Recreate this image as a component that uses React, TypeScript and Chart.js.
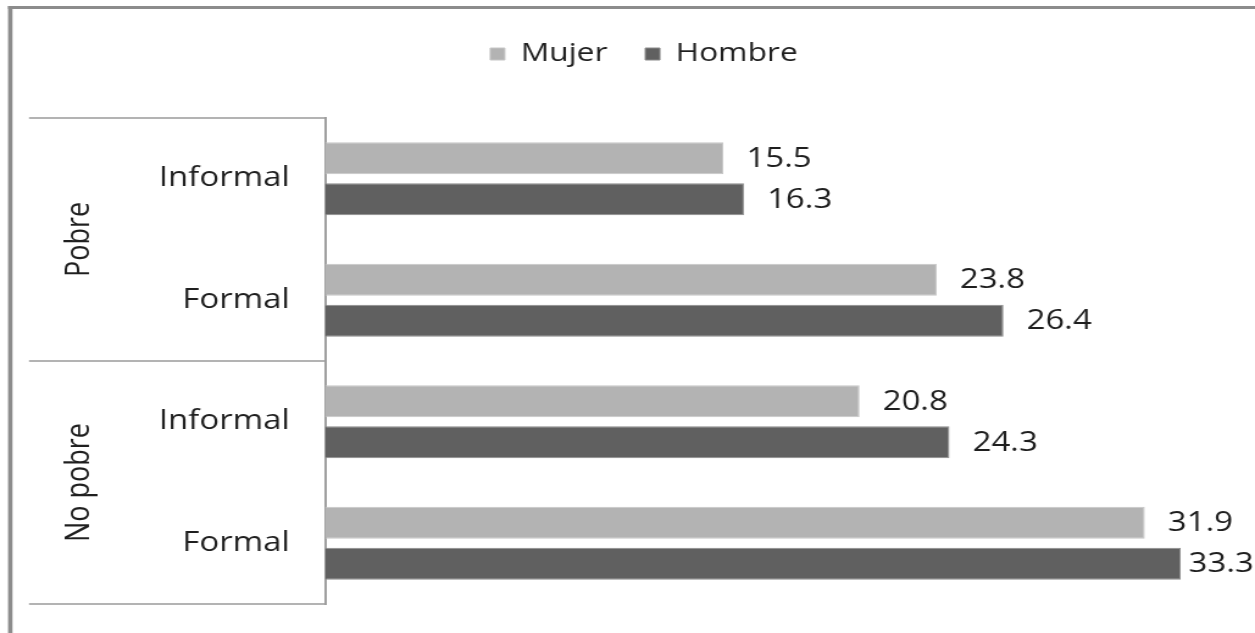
import React, { useEffect, useRef } from "react";
import { Chart, registerables } from "chart.js";

Chart.register(...registerables);

// ---- data ----
const categories = ["Informal", "Formal", "Informal", "Formal"];
const groups = ["Pobre", "No pobre"];
const seriesNames = ["Mujer", "Hombre"];
const mujer = [15.5, 23.8, 20.8, 31.9];
const hombre = [16.3, 26.4, 24.3, 33.3];
const seriesColors = ["#b3b3b3", "#606060"];
const seriesBorders = ["#c6c6c6", "#8a8a8a"];

// ---- layout constants ----
const LOGICAL_W = 1029;
const CSS_W = 1255;
const H = 633;
const FONT = "'Open Sans', sans-serif";
const TEXT = "#1f1f1f";

const decorPlugin = {
  id: "decor",
  beforeDraw(chart: any) {
    const ctx = chart.ctx;
    ctx.save();
    ctx.fillStyle = "#ffffff";
    ctx.fillRect(0, 0, chart.width, chart.height);
    ctx.fillStyle = "#8c8c8c";
    ctx.fillRect(6.6, 6, 3.6, chart.height);
    ctx.fillRect(6.6, 6, chart.width, 3);
    ctx.restore();
  },
  afterDraw(chart: any) {
    const { ctx, chartArea, scales } = chart;
    const y = scales.y;
    const top = chartArea.top;
    const bottom = chartArea.bottom;
    const mid = (y.getPixelForValue(1) + y.getPixelForValue(2)) / 2;
    const x0 = 23.8;
    const x1 = chartArea.left;
    ctx.save();
    ctx.strokeStyle = "#9a9a9a";
    ctx.lineWidth = 1.6;
    for (const yy of [top, mid, bottom]) {
      ctx.beginPath();
      ctx.moveTo(x0, yy);
      ctx.lineTo(x1, yy);
      ctx.stroke();
    }
    ctx.fillStyle = TEXT;
    ctx.font = `27px ${FONT}`;
    ctx.textAlign = "center";
    ctx.textBaseline = "middle";
    const centers = [(top + mid) / 2, (mid + bottom) / 2];
    groups.forEach((g, i) => {
      ctx.save();
      ctx.translate(65, centers[i]);
      ctx.rotate(-Math.PI / 2);
      ctx.fillText(g, 0, 0);
      ctx.restore();
    });
    ctx.restore();
  },
  afterDatasetsDraw(chart: any) {
    const ctx = chart.ctx;
    ctx.save();
    ctx.fillStyle = TEXT;
    ctx.font = `27px ${FONT}`;
    ctx.textAlign = "left";
    ctx.textBaseline = "middle";
    chart.data.datasets.forEach((ds: any, di: number) => {
      const meta = chart.getDatasetMeta(di);
      meta.data.forEach((el: any, i: number) => {
        const txt = String(ds.data[i].toFixed(1));
        const w = ctx.measureText(txt).width;
        let x = el.x + 19;
        if (x + w > chart.width - 1) x = chart.width - 1 - w;
        ctx.fillText(txt, x, el.y + 1);
      });
    });
    ctx.restore();
  },
};

export default function App() {
  const ref = useRef<HTMLCanvasElement | null>(null);
  useEffect(() => {
    if (!ref.current) return;
    const chart = new Chart(ref.current, {
      type: "bar",
      data: {
        labels: categories,
        datasets: [
          {
            label: seriesNames[0],
            data: mujer,
            backgroundColor: seriesColors[0],
            borderColor: seriesBorders[0],
            borderWidth: 1,
            categoryPercentage: 0.675,
            barPercentage: 0.78,
          },
          {
            label: seriesNames[1],
            data: hombre,
            backgroundColor: seriesColors[1],
            borderColor: seriesBorders[1],
            borderWidth: 1,
            categoryPercentage: 0.675,
            barPercentage: 0.78,
          },
        ],
      },
      options: {
        indexAxis: "y",
        responsive: false,
        animation: false,
        devicePixelRatio: 1,
        layout: { padding: { left: 31, right: 4, top: 10, bottom: 29 } },
        plugins: {
          legend: {
            display: true,
            position: "top",
            labels: {
              boxWidth: 12,
              boxHeight: 12,
              padding: 31,
              color: TEXT,
              font: { family: FONT, size: 26 },
            },
          },
          tooltip: { enabled: false },
          title: { display: false },
        },
        scales: {
          x: {
            position: "top",
            min: 0,
            max: 36,
            ticks: { display: false },
            grid: { display: false },
            border: { display: false },
            afterFit: (s: any) => {
              s.height = 41;
            },
          },
          y: {
            grid: { display: false, drawTicks: false },
            border: { display: true, color: "#a0a0a0", width: 2 },
            ticks: {
              padding: 29,
              color: TEXT,
              font: { family: FONT, size: 27 },
            },
            afterFit: (s: any) => {
              s.width = 235.5;
              s.paddingTop = 0;
              s.paddingBottom = 0;
            },
          },
        },
      },
      plugins: [decorPlugin],
    });
    return () => chart.destroy();
  }, []);
  return (
    <div style={{ position: "fixed", left: 0, top: 0, width: CSS_W, height: H, background: "#fff" }}>
      <canvas
        ref={ref}
        width={LOGICAL_W}
        height={H}
        style={{ width: CSS_W + "px", height: H + "px", display: "block" }}
      />
    </div>
  );
}
